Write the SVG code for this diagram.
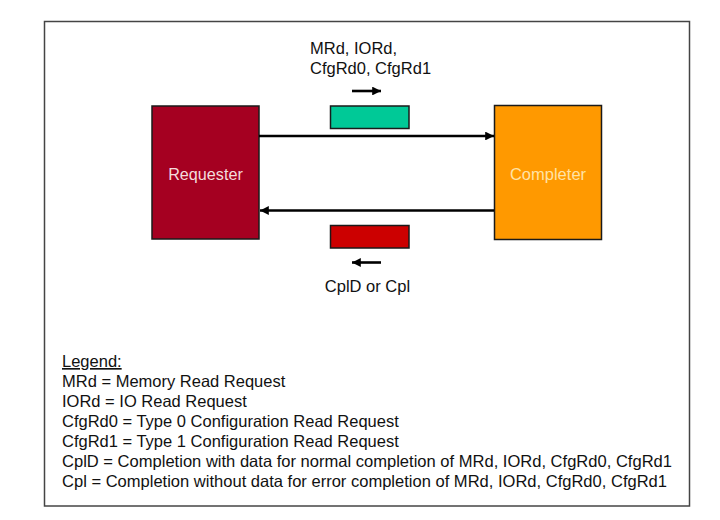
<svg xmlns="http://www.w3.org/2000/svg" width="720" height="520" viewBox="0 0 720 520">
<style>
  text { font-family: "Liberation Sans", Arial, sans-serif; fill: #111; }
  .lbl { font-size: 16.5px; }
  .leg { font-size: 16.5px; }
  .node { stroke: #1a1a1a; stroke-width: 1.5; }
  .conn { stroke: #000; stroke-width: 2.6; fill: none; }
</style>
<defs>
  <marker id="ah" viewBox="0 0 10 10" refX="10" refY="5" markerWidth="3.4" markerHeight="3.4" orient="auto" markerUnits="strokeWidth">
    <path d="M0,0 L10,5 L0,10 Z" fill="#000"/>
  </marker>
</defs>
<rect width="720" height="520" fill="#fff"/>
<rect x="44.5" y="21.5" width="645" height="484.5" fill="#fff" stroke="#444" stroke-width="1.5"/>

<g id="requester">
  <rect class="node" x="152" y="106" width="107" height="133" fill="#a50021"/>
  <text x="205.5" y="180" text-anchor="middle" font-size="16.2" style="fill:#f3dcdc">Requester</text>
</g>
<g id="completer">
  <rect class="node" x="494.5" y="105.5" width="107" height="134" fill="#ff9900"/>
  <text x="548" y="180" text-anchor="middle" font-size="16.5" style="fill:#ffe3a6">Completer</text>
</g>
<g id="request-packet">
  <rect class="node" x="330.5" y="106" width="78.5" height="22.5" fill="#00c997"/>
  <text class="lbl" x="310" y="53.5">MRd, IORd,</text>
  <text class="lbl" x="310" y="74">CfgRd0, CfgRd1</text>
</g>
<g id="completion-packet">
  <rect class="node" x="330.5" y="225.5" width="78.5" height="22.5" fill="#cc0000"/>
  <text class="lbl" x="367.5" y="291.5" text-anchor="middle">CplD or Cpl</text>
</g>

<g id="connectors">
  <line class="conn" x1="259" y1="136" x2="494" y2="136" marker-end="url(#ah)"/>
  <line class="conn" x1="494" y1="210.5" x2="260" y2="210.5" marker-end="url(#ah)"/>
  <line class="conn" x1="352" y1="91" x2="381" y2="91" stroke-width="3" marker-end="url(#ah)"/>
  <line class="conn" x1="381" y1="262.5" x2="352" y2="262.5" stroke-width="3" marker-end="url(#ah)"/>
</g>

<g id="legend">
  <text class="leg" x="62" y="367" text-decoration="underline">Legend:</text>
  <text class="leg" x="62" y="387">MRd = Memory Read Request</text>
  <text class="leg" x="62" y="407">IORd = IO Read Request</text>
  <text class="leg" x="62" y="427">CfgRd0 = Type 0 Configuration Read Request</text>
  <text class="leg" x="62" y="447">CfgRd1 = Type 1 Configuration Read Request</text>
  <text class="leg" x="62" y="467" textLength="610" lengthAdjust="spacingAndGlyphs">CplD = Completion with data for normal completion of MRd, IORd, CfgRd0, CfgRd1</text>
  <text class="leg" x="62" y="487" textLength="605" lengthAdjust="spacingAndGlyphs">Cpl = Completion without data for error completion of MRd, IORd, CfgRd0, CfgRd1</text>
</g>
</svg>
